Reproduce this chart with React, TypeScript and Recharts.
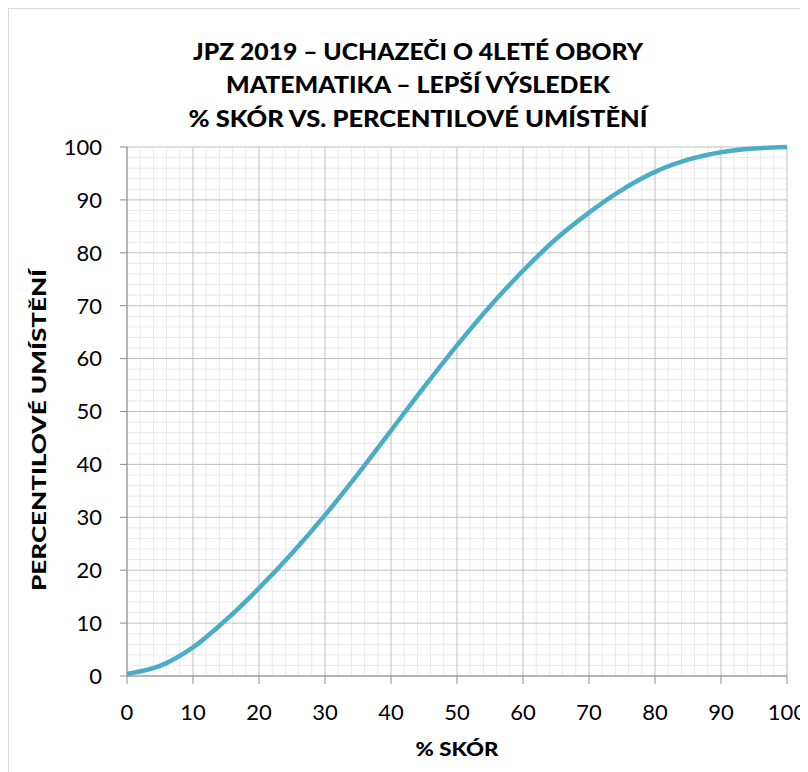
import React from "react";
import { LineChart, Line, XAxis, YAxis, CartesianGrid } from "recharts";

const scorePct = [0, 5, 10, 15, 20, 25, 30, 35, 40, 45, 50, 55, 60, 65, 70, 75, 80, 85, 90, 95, 100];
const percentile = [0.4, 1.9, 5.4, 10.6, 16.6, 23.2, 30.4, 38.2, 46.4, 54.6, 62.5, 69.9, 76.6, 82.6, 87.6, 91.9, 95.3, 97.6, 99.0, 99.7, 100];

const majorTicks = [0, 10, 20, 30, 40, 50, 60, 70, 80, 90, 100];
const minorTicks = [2, 4, 6, 8, 12, 14, 16, 18, 22, 24, 26, 28, 32, 34, 36, 38, 42, 44, 46, 48, 52, 54, 56, 58, 62, 64, 66, 68, 72, 74, 76, 78, 82, 84, 86, 88, 92, 94, 96, 98];

const titleLines = [
  "JPZ 2019 – UCHAZEČI O 4LETÉ OBORY",
  "MATEMATIKA – LEPŠÍ VÝSLEDEK",
  "% SKÓR VS. PERCENTILOVÉ UMÍSTĚNÍ",
];
const xTitle = "% SKÓR";
const yTitle = "PERCENTILOVÉ UMÍSTĚNÍ";

const data = scorePct.map((x, i) => ({ x, y: percentile[i] }));

const FONT = "Lato, 'Open Sans', sans-serif";
const W = 799;
const H = 763;

const titleBaselines = [50.8, 84.2, 117.8];
const titleLengths = [450, 384, 459];

const XLabel = (props: any) => {
  const vb = props.viewBox || { x: 118, y: 667, width: 660 };
  const cx = vb.x + vb.width / 2;
  return (
    <text
      x={cx}
      y={vb.y + 80}
      textAnchor="middle"
      fontFamily={FONT}
      fontWeight={900}
      fontSize={19}
      fill="#000"
      textLength={83}
      lengthAdjust="spacingAndGlyphs"
    >
      {xTitle}
    </text>
  );
};

const YLabel = () => {
  const x = 37;
  const y = 421;
  return (
    <text
      x={x}
      y={y}
      transform={`rotate(-90, ${x}, ${y})`}
      textAnchor="middle"
      fontFamily={FONT}
      fontWeight={900}
      fontSize={19}
      fill="#000"
      textLength={322}
      lengthAdjust="spacingAndGlyphs"
    >
      {yTitle}
    </text>
  );
};

export default function App() {
  return (
    <div
      style={{
        position: "relative",
        width: W + 1,
        height: H + 1,
        borderLeft: "1px solid #d9d9d9",
        borderTop: "1px solid #d9d9d9",
        boxSizing: "border-box",
        background: "#fff",
      }}
    >
      <div style={{ position: "absolute", left: 0, top: 0 }}>
        <LineChart
          width={W}
          height={H}
          data={data}
          margin={{ top: 138, right: 21, left: 0, bottom: 0 }}
        >
          <CartesianGrid
            stroke="#e9e9e9"
            strokeWidth={1}
            horizontalValues={minorTicks}
            verticalValues={minorTicks}
          />
          <CartesianGrid
            stroke="#bfbfbf"
            strokeWidth={1}
            horizontalValues={majorTicks}
            verticalValues={majorTicks}
          />
          <XAxis
            dataKey="x"
            type="number"
            domain={[0, 100]}
            ticks={majorTicks}
            interval={0}
            height={96}
            tickSize={8}
            tickMargin={20}
            axisLine={{ stroke: "#8c8c8c", strokeWidth: 1 }}
            tickLine={{ stroke: "#8c8c8c", strokeWidth: 1 }}
            tick={{ fill: "#000", fontSize: 22, fontFamily: FONT }}
            label={<XLabel />}
          />
          <YAxis
            type="number"
            domain={[0, 100]}
            ticks={majorTicks}
            interval={0}
            width={118}
            tickSize={7}
            tickMargin={18}
            axisLine={{ stroke: "#8c8c8c", strokeWidth: 1 }}
            tickLine={{ stroke: "#8c8c8c", strokeWidth: 1 }}
            tick={{ fill: "#000", fontSize: 22, fontFamily: FONT }}
            label={<YLabel />}
          />
          <Line
            type="monotone"
            dataKey="y"
            stroke="#4bacc6"
            strokeWidth={4.5}
            dot={false}
            activeDot={false}
            isAnimationActive={false}
          />
        </LineChart>
      </div>
      <svg
        width={W}
        height={140}
        style={{ position: "absolute", left: 0, top: 0, pointerEvents: "none" }}
      >
        {titleLines.map((t, i) => (
          <text
            key={i}
            x={409}
            y={titleBaselines[i]}
            textAnchor="middle"
            fontFamily={FONT}
            fontWeight={900}
            fontSize={23.5}
            fill="#000"
            textLength={titleLengths[i]}
            lengthAdjust="spacingAndGlyphs"
          >
            {t}
          </text>
        ))}
      </svg>
    </div>
  );
}
